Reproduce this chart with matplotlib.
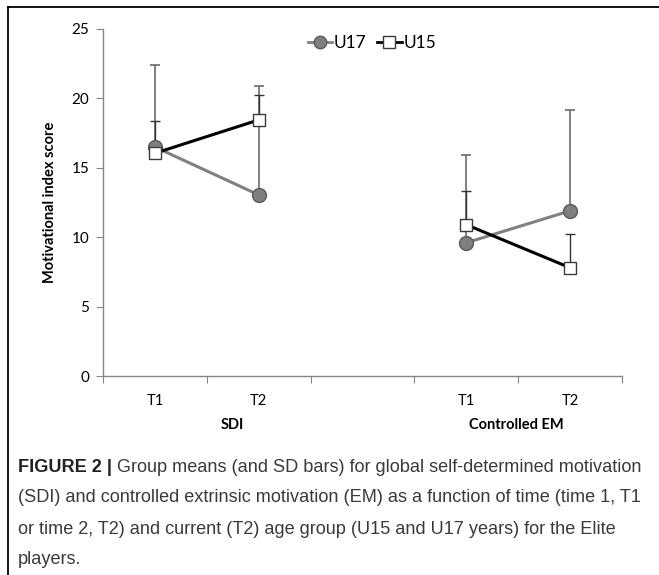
import matplotlib
matplotlib.use('Agg')
import matplotlib.pyplot as plt
from matplotlib.lines import Line2D
import numpy as np

# categories on the x axis (the empty one is the gap between the groups)
categories = ['T1', 'T2', '', 'T1', 'T2']
groups = ['SDI', 'Controlled EM']

# group means
u17_mean = [16.5, 13.05, np.nan, 9.6, 11.9]
u15_mean = [16.05, 18.45, np.nan, 10.9, 7.8]
# upper SD bars
u17_sd = [5.9, 7.85, np.nan, 6.3, 7.3]
u15_sd = [2.35, 1.8, np.nan, 2.45, 2.4]

caption_bold = 'FIGURE 2 |'
caption_lines = [
    ' Group means (and SD bars) for global self-determined motivation',
    '(SDI) and controlled extrinsic motivation (EM) as a function of time (time 1, T1',
    'or time 2, T2) and current (T2) age group (U15 and U17 years) for the Elite',
    'players.',
]

W, H = 659, 575
fig = plt.figure(figsize=(W / 100, H / 100), dpi=100)
ax = fig.add_axes([103 / W, 1 - 376 / H, (622 - 103) / W, (376 - 29) / H])

x = np.arange(len(categories))
zeros = np.zeros(len(categories))

# error bars first so the markers sit on top
ax.errorbar(x, u17_mean, yerr=[zeros, u17_sd], fmt='none', ecolor='#6a6a6a',
            elinewidth=1.2, capsize=3.5, capthick=1.2, zorder=2)
ax.errorbar(x, u15_mean, yerr=[zeros, u15_sd], fmt='none', ecolor='#333333',
            elinewidth=1.0, capsize=3.5, capthick=1.0, zorder=2)

ax.plot(x, u17_mean, '-', color='#808080', lw=2.2, marker='o', markersize=10,
        markerfacecolor='#7f7f7f', markeredgecolor='#5a5a5a', markeredgewidth=1,
        zorder=3)
ax.plot(x, u15_mean, '-', color='black', lw=2.2, marker='s', markersize=9,
        markerfacecolor='white', markeredgecolor='#3a3a3a', markeredgewidth=1,
        zorder=4)

ax.set_xlim(-0.5, len(categories) - 0.5)
ax.set_ylim(0, 25)
ax.set_yticks([0, 5, 10, 15, 20, 25])

tickfont = 'Lato'
ax.set_xticks(np.arange(len(categories) + 1) - 0.5)
ax.set_xticklabels([])
ax.set_xticks(x, minor=True)
ax.set_xticklabels(categories, minor=True, fontsize=10.5, fontname=tickfont)
ax.tick_params(axis='x', which='minor', length=0, pad=13)
ax.tick_params(axis='x', which='major', length=5, color='#868686', direction='out')
ax.tick_params(axis='y', length=5, color='#868686', direction='out', pad=5,
               labelsize=11)
for lab in ax.get_yticklabels():
    lab.set_fontname(tickfont)

for s in ['top', 'right']:
    ax.spines[s].set_visible(False)
for s in ['left', 'bottom']:
    ax.spines[s].set_color('#868686')
    ax.spines[s].set_linewidth(1)

ax.set_ylabel('Motivational index score', fontsize=10.5, fontweight='bold',
              fontname=tickfont, labelpad=10)

# group labels under the tick labels
trans = matplotlib.transforms.blended_transform_factory(ax.transData, ax.transAxes)
ax.text(0.75, -0.141, groups[0], transform=trans, ha='center', va='center',
        fontsize=10.5, fontweight='bold', fontname=tickfont)
ax.text(3.48, -0.141, groups[1], transform=trans, ha='center', va='center',
        fontsize=10.5, fontweight='bold', fontname=tickfont)

handles = [
    Line2D([], [], color='#808080', lw=2, marker='o', markersize=9,
           markerfacecolor='#7f7f7f', markeredgecolor='#5a5a5a'),
    Line2D([], [], color='black', lw=2, marker='s', markersize=8,
           markerfacecolor='white', markeredgecolor='#3a3a3a'),
]
fig.legend(handles, ['U17', 'U15'], loc='center', ncol=2,
           bbox_to_anchor=(372 / W, 1 - 43 / H), frameon=False,
           handlelength=1.4, handletextpad=0.1, columnspacing=0.6,
           prop={'family': tickfont, 'size': 12.5})

# frame of the figure panel: top and left rules
fig.add_artist(Line2D([8 / W, 1], [1 - 7 / H, 1 - 7 / H], color='black', lw=1.3))
fig.add_artist(Line2D([8 / W, 8 / W], [0, 1 - 7 / H], color='black', lw=1.3))

# caption
capfont = 'Liberation Sans'
capsize = 13.1
ys = [467, 498, 529, 559]
t0 = fig.text(18 / W, 1 - ys[0] / H, caption_bold, fontsize=capsize,
              fontweight='bold', fontname=capfont, color='#222222', va='center')
fig.canvas.draw()
bb = t0.get_window_extent()
fig.text(bb.x1 / W, 1 - ys[0] / H, caption_lines[0], fontsize=capsize,
         fontname=capfont, color='#3a3a3a', va='center')
for line, yy in zip(caption_lines[1:], ys[1:]):
    fig.text(18 / W, 1 - yy / H, line, fontsize=capsize, fontname=capfont,
             color='#3a3a3a', va='center')

fig.savefig('out.png', dpi=100)
